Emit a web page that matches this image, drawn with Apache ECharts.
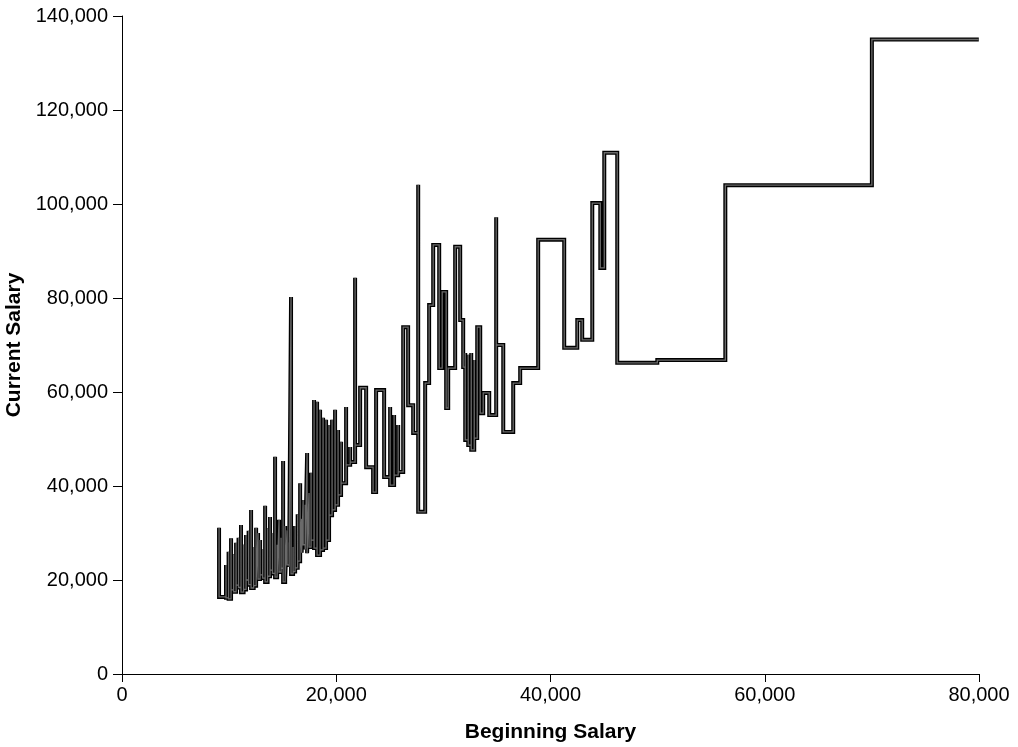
<!DOCTYPE html>
<html>
<head>
<meta charset="utf-8">
<title>Current Salary by Beginning Salary</title>
<script src="https://cdn.jsdelivr.net/npm/echarts@6/dist/echarts.min.js"></script>
<style>
  html, body { margin: 0; padding: 0; background: #fff; }
  #chart { width: 1018px; height: 747px; }
</style>
</head>
<body>
<div id="chart"></div>
<script>
// step path: each pair is where the line lands after a vertical move
const beginningSalary = [
  9060, 9060, 9710, 9710, 9950, 9950, 10180, 10180, 10420, 10420,
  10650, 10650, 10880, 10880, 11110, 11110, 11350, 11350, 11580, 11580,
  11820, 11820, 12050, 12050, 12290, 12290, 12520, 12520, 12700, 12700,
  12890, 12890, 13130, 13130, 13360, 13360, 13590, 13590, 13820, 13820,
  14050, 14050, 14290, 14290, 14480, 14480, 14660, 14660, 14850, 14850,
  15040, 15040, 15230, 15230, 15410, 15410, 15600, 15600, 15780, 15780,
  15970, 15970, 16160, 16160, 16400, 16400, 16630, 16630, 16770, 16770,
  16910, 16910, 17100, 17100, 17280, 17280, 17460, 17460, 17650, 17650,
  17930, 17930, 18210, 18210, 18490, 18490, 18770, 18770,
  19050, 19050, 19330, 19330, 19610, 19610, 19890, 19890, 20170, 20170,
  20450, 20450, 20920, 20920, 21300, 21300, 21760, 21760, 22230, 22790,
  23440, 23720, 24470, 25030, 25030, 25400, 25400, 25780, 25780, 26250,
  26710, 27180, 27650, 27650, 28300, 28670, 29050, 29610, 29890, 30260,
  30450, 31100, 31570, 31850, 32040, 32040, 32320, 32320, 32600, 32600,
  32880, 32880, 33160, 33440, 33720, 34280, 34930, 34930, 35590, 36520,
  37170, 38850, 41280, 42500, 42960, 43900, 44650, 45020, 46230, 49970,
  56320, 70000, 79980
];
const currentSalary = [
  31100, 16400, 23200, 16200, 26000, 16000, 28900, 17900, 25500, 17500,
  27900, 18900, 29000, 18400, 31700, 17400, 27500, 18000, 29600, 20000,
  30500, 19000, 34900, 18300, 27000, 18800, 31100, 19600, 30000, 20200,
  28500, 21100, 26500, 20400, 35800, 19600, 31000, 20800, 33400, 22100,
  30000, 21400, 46200, 20600, 27500, 21000, 32800, 21700, 29000, 22500,
  45300, 19600, 31500, 20300, 30600, 23200, 28000, 22800, 80200, 21300,
  27000, 21800, 31500, 22600, 34000, 24000, 40600, 26400, 33000, 25800,
  37000, 27500, 36000, 26500, 47000, 25700, 38500, 27000, 42800, 28500,
  58300, 26800, 57900, 25300, 56200, 26400, 54500, 26800,
  54100, 28500, 53000, 33800, 54100, 34900, 56200, 36000, 51900, 38100,
  49400, 40600, 56800, 44500, 48300, 45100, 84300, 48700, 60900, 44000,
  38700, 60400, 41900, 56800, 40200, 55100, 42300, 53000, 43000, 73800,
  57200, 51300, 104100, 34500, 61900, 78500, 91300, 65100, 81300, 56600,
  65100, 90900, 75300, 65300, 68300, 49800, 67900, 48700, 68300, 47700,
  66800, 50200, 73800, 55500, 59800, 55100, 97200, 70000, 51500, 61900,
  65100, 92400, 69400, 75300, 71100, 100200, 86400, 110900, 66200, 66800,
  104000, 135000, 135000
];

const xMin = 0, xMax = 80000, xStep = 20000;
const yMin = 0, yMax = 140000, yStep = 20000;

const points = beginningSalary.map((x, i) => [x, currentSalary[i]]);

const fmt = v => Number(v).toLocaleString('en-US');
const fontFamily = '"Liberation Sans", Arial, sans-serif';

const chart = echarts.init(document.getElementById('chart'));

const option = {
  animation: false,
  backgroundColor: '#ffffff',
  grid: { left: 122, right: 39, top: 16, bottom: 73, outerBoundsMode: 'none' },
  xAxis: {
    type: 'value',
    min: xMin,
    max: xMax,
    interval: xStep,
    name: 'Beginning Salary',
    nameLocation: 'middle',
    nameGap: 48,
    nameTextStyle: { fontFamily, fontSize: 21, fontWeight: 'bold', color: '#000' },
    axisLine: { lineStyle: { color: '#000', width: 1 } },
    axisTick: { show: true, length: 8, lineStyle: { color: '#000' } },
    axisLabel: { fontFamily, fontSize: 20, color: '#000', margin: 11, formatter: fmt, showMaxLabel: true, showMinLabel: true },
    splitLine: { show: false }
  },
  yAxis: {
    type: 'value',
    min: yMin,
    max: yMax,
    interval: yStep,
    name: 'Current Salary',
    nameLocation: 'middle',
    nameGap: 86,
    nameTextStyle: { fontFamily, fontSize: 21, fontWeight: 'bold', color: '#000' },
    axisLine: { show: true, lineStyle: { color: '#000', width: 1 } },
    axisTick: { show: true, length: 9, lineStyle: { color: '#000' } },
    axisLabel: { fontFamily, fontSize: 20, color: '#000', margin: 14, formatter: fmt },
    splitLine: { show: false }
  },
  series: [
    {
      name: 'outline',
      type: 'line',
      step: 'end',
      data: points,
      showSymbol: false,
      silent: true,
      lineStyle: { color: '#000', width: 4, join: 'miter' }
    },
    {
      name: 'Current Salary',
      type: 'line',
      step: 'end',
      data: points,
      showSymbol: false,
      silent: true,
      lineStyle: { color: '#6a6a6a', width: 1.3, join: 'miter' }
    }
  ]
};

chart.setOption(option);
</script>
</body>
</html>
